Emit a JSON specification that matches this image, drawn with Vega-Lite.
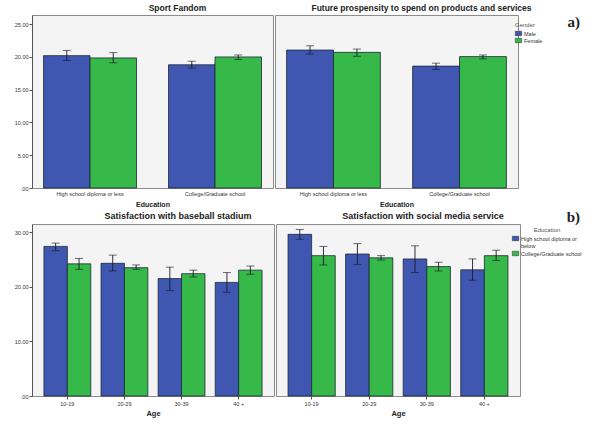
{
  "$schema": "https://vega.github.io/schema/vega-lite/v6.json",
  "background": "white",
  "padding": {"left": 13, "top": 3, "right": 0, "bottom": 0},
  "config": {
    "font": "Liberation Sans",
    "view": {"fill": "#f4f4f4", "stroke": "#8c8c8c", "strokeWidth": 1},
    "axis": {"labelFontSize": 5.5, "labelColor": "#333", "titleFontSize": 7, "titleFontWeight": "bold", "titleColor": "#222", "domainColor": "#555", "tickColor": "#555", "tickSize": 3, "grid": false},
    "title": {"fontSize": 8.5, "fontWeight": "bold", "color": "#222", "offset": 3},
    "legend": {"titleFontSize": 6, "titleFontWeight": "normal", "titleColor": "#555", "labelFontSize": 5.5, "labelColor": "#333", "symbolType": "M-1,-0.7H1V0.7H-1Z", "symbolSize": 40, "symbolStrokeColor": "#1c2833", "symbolStrokeWidth": 0.5, "rowPadding": 0, "titlePadding": 2, "labelOffset": 2}
  },
  "datasets": {
    "top": [
      {"panel": "Sport Fandom", "edu": "High school diploma or less", "gender": "Male", "mean": 20.2, "lo": 19.45, "hi": 21.0},
      {"panel": "Sport Fandom", "edu": "High school diploma or less", "gender": "Female", "mean": 19.85, "lo": 19.1, "hi": 20.65},
      {"panel": "Sport Fandom", "edu": "College/Graduate school", "gender": "Male", "mean": 18.8, "lo": 18.3, "hi": 19.35},
      {"panel": "Sport Fandom", "edu": "College/Graduate school", "gender": "Female", "mean": 20.0, "lo": 19.6, "hi": 20.3},
      {"panel": "Future", "edu": "High school diploma or less", "gender": "Male", "mean": 21.05, "lo": 20.45, "hi": 21.7},
      {"panel": "Future", "edu": "High school diploma or less", "gender": "Female", "mean": 20.7, "lo": 20.1, "hi": 21.2},
      {"panel": "Future", "edu": "College/Graduate school", "gender": "Male", "mean": 18.6, "lo": 18.1, "hi": 19.05},
      {"panel": "Future", "edu": "College/Graduate school", "gender": "Female", "mean": 20.05, "lo": 19.7, "hi": 20.3}
    ],
    "bottom": [
      {"panel": "Baseball", "age": "10-19", "edu": "High school diploma or below", "mean": 27.4, "lo": 26.6, "hi": 28.0},
      {"panel": "Baseball", "age": "10-19", "edu": "College/Graduate school", "mean": 24.2, "lo": 23.2, "hi": 25.2},
      {"panel": "Baseball", "age": "20-29", "edu": "High school diploma or below", "mean": 24.3, "lo": 22.9, "hi": 25.8},
      {"panel": "Baseball", "age": "20-29", "edu": "College/Graduate school", "mean": 23.5, "lo": 23.2, "hi": 24.0},
      {"panel": "Baseball", "age": "30-39", "edu": "High school diploma or below", "mean": 21.5, "lo": 19.3, "hi": 23.6},
      {"panel": "Baseball", "age": "30-39", "edu": "College/Graduate school", "mean": 22.4, "lo": 21.8, "hi": 23.05},
      {"panel": "Baseball", "age": "40 +", "edu": "High school diploma or below", "mean": 20.8, "lo": 19.0, "hi": 22.6},
      {"panel": "Baseball", "age": "40 +", "edu": "College/Graduate school", "mean": 23.05, "lo": 22.3, "hi": 23.8},
      {"panel": "Social", "age": "10-19", "edu": "High school diploma or below", "mean": 29.6, "lo": 28.7, "hi": 30.5},
      {"panel": "Social", "age": "10-19", "edu": "College/Graduate school", "mean": 25.7, "lo": 24.0, "hi": 27.4},
      {"panel": "Social", "age": "20-29", "edu": "High school diploma or below", "mean": 26.0, "lo": 24.1, "hi": 27.9},
      {"panel": "Social", "age": "20-29", "edu": "College/Graduate school", "mean": 25.3, "lo": 24.9, "hi": 25.7},
      {"panel": "Social", "age": "30-39", "edu": "High school diploma or below", "mean": 25.1, "lo": 22.6, "hi": 27.5},
      {"panel": "Social", "age": "30-39", "edu": "College/Graduate school", "mean": 23.7, "lo": 22.9, "hi": 24.5},
      {"panel": "Social", "age": "40 +", "edu": "High school diploma or below", "mean": 23.1, "lo": 21.2, "hi": 25.1},
      {"panel": "Social", "age": "40 +", "edu": "College/Graduate school", "mean": 25.7, "lo": 24.8, "hi": 26.7}
    ]
  },
  "spacing": 1,
  "resolve": {"scale": {"color": "independent", "y": "independent", "x": "independent", "xOffset": "independent"}, "legend": {"color": "independent"}},
  "vconcat": [
    {
      "title": {"text": "a)", "anchor": "end", "frame": "group", "font": "Liberation Serif", "fontSize": 15, "fontWeight": "bold", "dx": 548, "dy": 30},
      "spacing": 0,
      "resolve": {"scale": {"color": "shared", "xOffset": "independent", "x": "independent"}},
      "hconcat": [
        {
          "width": 241, "height": 173,
          "title": {"text": "Sport Fandom", "dx": 25},
          "data": {"name": "top"},
          "transform": [{"filter": "datum.panel == 'Sport Fandom'"}],
          "encoding": {
            "x": {"field": "edu", "type": "nominal", "sort": ["High school diploma or less", "College/Graduate school"], "scale": {"paddingInner": 0.256, "paddingOuter": 0.092}, "axis": {"title": "Education", "labelAngle": 0, "ticks": false, "domain": false, "labelPadding": 3, "titlePadding": 4}},
            "xOffset": {"field": "gender", "type": "nominal", "sort": ["Male", "Female"], "scale": {"paddingInner": 0, "paddingOuter": 0}}
          },
          "layer": [
            {"mark": {"type": "bar", "stroke": "#1c2833", "strokeWidth": 0.8},
             "encoding": {
               "y": {"field": "mean", "type": "quantitative", "scale": {"domain": [0, 26.4], "nice": false}, "axis": {"title": null, "values": [0, 5, 10, 15, 20, 25], "labelExpr": "datum.value == 0 ? '.00' : format(datum.value, '.2f')", "labelPadding": 1}},
               "color": {"field": "gender", "type": "nominal", "scale": {"domain": ["Male", "Female"], "range": ["#3f57b0", "#37b94a"]}, "legend": {"title": "Gender", "orient": "none", "legendX": 483, "legendY": 7}}
             }},
            {"mark": {"type": "rule", "color": "#1a1a2a", "strokeWidth": 0.9}, "encoding": {"y": {"field": "lo", "type": "quantitative", "scale": {"domain": [0, 26.4], "nice": false}, "axis": {"title": null, "values": [0, 5, 10, 15, 20, 25], "labelExpr": "datum.value == 0 ? '.00' : format(datum.value, '.2f')", "labelPadding": 1}}, "y2": {"field": "hi"}}},
            {"mark": {"type": "tick", "color": "#1a1a2a", "size": 8, "thickness": 0.9}, "encoding": {"y": {"field": "lo", "type": "quantitative", "scale": {"domain": [0, 26.4], "nice": false}, "axis": {"title": null, "values": [0, 5, 10, 15, 20, 25], "labelExpr": "datum.value == 0 ? '.00' : format(datum.value, '.2f')", "labelPadding": 1}}}},
            {"mark": {"type": "tick", "color": "#1a1a2a", "size": 8, "thickness": 0.9}, "encoding": {"y": {"field": "hi", "type": "quantitative", "scale": {"domain": [0, 26.4], "nice": false}, "axis": {"title": null, "values": [0, 5, 10, 15, 20, 25], "labelExpr": "datum.value == 0 ? '.00' : format(datum.value, '.2f')", "labelPadding": 1}}}}
          ]
        },
        {
          "width": 243, "height": 173,
          "title": {"text": "Future prospensity to spend on products and services", "dx": 25},
          "data": {"name": "top"},
          "transform": [{"filter": "datum.panel == 'Future'"}],
          "encoding": {
            "x": {"field": "edu", "type": "nominal", "sort": ["High school diploma or less", "College/Graduate school"], "scale": {"paddingInner": 0.256, "paddingOuter": 0.092}, "axis": {"title": "Education", "labelAngle": 0, "ticks": false, "domain": false, "labelPadding": 3, "titlePadding": 4}},
            "xOffset": {"field": "gender", "type": "nominal", "sort": ["Male", "Female"], "scale": {"paddingInner": 0, "paddingOuter": 0}}
          },
          "layer": [
            {"mark": {"type": "bar", "stroke": "#1c2833", "strokeWidth": 0.8},
             "encoding": {
               "y": {"field": "mean", "type": "quantitative", "scale": {"domain": [0, 26.4], "nice": false}, "axis": null},
               "color": {"field": "gender", "type": "nominal", "scale": {"domain": ["Male", "Female"], "range": ["#3f57b0", "#37b94a"]}, "legend": {"title": "Gender", "orient": "none", "legendX": 483, "legendY": 7}}
             }},
            {"mark": {"type": "rule", "color": "#1a1a2a", "strokeWidth": 0.9}, "encoding": {"y": {"field": "lo", "type": "quantitative", "axis": null}, "y2": {"field": "hi"}}},
            {"mark": {"type": "tick", "color": "#1a1a2a", "size": 8, "thickness": 0.9}, "encoding": {"y": {"field": "lo", "type": "quantitative", "axis": null}}},
            {"mark": {"type": "tick", "color": "#1a1a2a", "size": 8, "thickness": 0.9}, "encoding": {"y": {"field": "hi", "type": "quantitative", "axis": null}}}
          ]
        }
      ]
    },
    {
      "title": {"text": "b)", "anchor": "end", "frame": "group", "font": "Liberation Serif", "fontSize": 15, "fontWeight": "bold", "dx": 548, "dy": 16},
      "spacing": 0,
      "resolve": {"scale": {"color": "shared", "xOffset": "independent", "x": "independent"}},
      "hconcat": [
        {
          "width": 242, "height": 172,
          "title": {"text": "Satisfaction with baseball stadium", "dx": 25, "fontSize": 9},
          "data": {"name": "bottom"},
          "transform": [{"filter": "datum.panel == 'Baseball'"}],
          "encoding": {
            "x": {"field": "age", "type": "nominal", "sort": ["10-19", "20-29", "30-39", "40 +"], "scale": {"paddingInner": 0.18, "paddingOuter": 0.209}, "axis": {"title": "Age", "labelAngle": 0, "ticks": true, "domain": false, "labelPadding": 2, "titlePadding": 3, "titleFontSize": 7.5}},
            "xOffset": {"field": "edu", "type": "nominal", "sort": ["High school diploma or below", "College/Graduate school"], "scale": {"paddingInner": 0, "paddingOuter": 0}}
          },
          "layer": [
            {"mark": {"type": "bar", "stroke": "#1c2833", "strokeWidth": 0.8},
             "encoding": {
               "y": {"field": "mean", "type": "quantitative", "scale": {"domain": [0, 31.5], "nice": false}, "axis": {"title": null, "values": [0, 10, 20, 30], "labelExpr": "datum.value == 0 ? '.00' : format(datum.value, '.2f')", "labelPadding": 1}},
               "color": {"field": "edu", "type": "nominal", "scale": {"domain": ["High school diploma or below", "College/Graduate school"], "range": ["#3f57b0", "#37b94a"]}, "legend": {"title": "Education", "titleAnchor": "middle", "orient": "none", "legendX": 480, "legendY": 3, "labelExpr": "datum.label == 'High school diploma or below' ? ['High school diploma or', 'below'] : datum.label"}}
             }},
            {"mark": {"type": "rule", "color": "#1a1a2a", "strokeWidth": 0.9}, "encoding": {"y": {"field": "lo", "type": "quantitative", "scale": {"domain": [0, 31.5], "nice": false}, "axis": {"title": null, "values": [0, 10, 20, 30], "labelExpr": "datum.value == 0 ? '.00' : format(datum.value, '.2f')", "labelPadding": 1}}, "y2": {"field": "hi"}}},
            {"mark": {"type": "tick", "color": "#1a1a2a", "size": 8, "thickness": 0.9}, "encoding": {"y": {"field": "lo", "type": "quantitative", "scale": {"domain": [0, 31.5], "nice": false}, "axis": {"title": null, "values": [0, 10, 20, 30], "labelExpr": "datum.value == 0 ? '.00' : format(datum.value, '.2f')", "labelPadding": 1}}}},
            {"mark": {"type": "tick", "color": "#1a1a2a", "size": 8, "thickness": 0.9}, "encoding": {"y": {"field": "hi", "type": "quantitative", "scale": {"domain": [0, 31.5], "nice": false}, "axis": {"title": null, "values": [0, 10, 20, 30], "labelExpr": "datum.value == 0 ? '.00' : format(datum.value, '.2f')", "labelPadding": 1}}}}
          ]
        },
        {
          "width": 244, "height": 172,
          "title": {"text": "Satisfaction with social media service", "dx": 25, "fontSize": 9},
          "data": {"name": "bottom"},
          "transform": [{"filter": "datum.panel == 'Social'"}],
          "encoding": {
            "x": {"field": "age", "type": "nominal", "sort": ["10-19", "20-29", "30-39", "40 +"], "scale": {"paddingInner": 0.18, "paddingOuter": 0.209}, "axis": {"title": "Age", "labelAngle": 0, "ticks": true, "domain": false, "labelPadding": 2, "titlePadding": 3, "titleFontSize": 7.5}},
            "xOffset": {"field": "edu", "type": "nominal", "sort": ["High school diploma or below", "College/Graduate school"], "scale": {"paddingInner": 0, "paddingOuter": 0}}
          },
          "layer": [
            {"mark": {"type": "bar", "stroke": "#1c2833", "strokeWidth": 0.8},
             "encoding": {
               "y": {"field": "mean", "type": "quantitative", "scale": {"domain": [0, 31.5], "nice": false}, "axis": null},
               "color": {"field": "edu", "type": "nominal", "scale": {"domain": ["High school diploma or below", "College/Graduate school"], "range": ["#3f57b0", "#37b94a"]}, "legend": {"title": "Education", "titleAnchor": "middle", "orient": "none", "legendX": 480, "legendY": 3, "labelExpr": "datum.label == 'High school diploma or below' ? ['High school diploma or', 'below'] : datum.label"}}
             }},
            {"mark": {"type": "rule", "color": "#1a1a2a", "strokeWidth": 0.9}, "encoding": {"y": {"field": "lo", "type": "quantitative", "axis": null}, "y2": {"field": "hi"}}},
            {"mark": {"type": "tick", "color": "#1a1a2a", "size": 8, "thickness": 0.9}, "encoding": {"y": {"field": "lo", "type": "quantitative", "axis": null}}},
            {"mark": {"type": "tick", "color": "#1a1a2a", "size": 8, "thickness": 0.9}, "encoding": {"y": {"field": "hi", "type": "quantitative", "axis": null}}}
          ]
        }
      ]
    }
  ]
}
